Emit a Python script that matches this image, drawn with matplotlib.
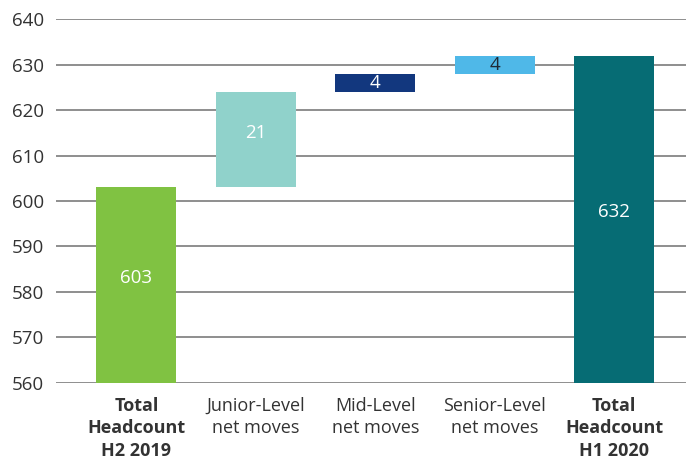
import matplotlib.pyplot as plt

plt.rcParams['font.family'] = ['Open Sans', 'DejaVu Sans']

categories = ['Total\nHeadcount\nH2 2019', 'Junior-Level\nnet moves', 'Mid-Level\nnet moves',
              'Senior-Level\nnet moves', 'Total\nHeadcount\nH1 2020']
start_total = 603
moves = [21, 4, 4]
end_total = 632
colors = ['#80c242', '#90d2cb', '#12377e', '#4fb8e8', '#066c74']
label_colors = ['white', 'white', 'white', '#1e2a36', 'white']
bold = [True, False, False, False, True]

base = 560
bottoms = [base]
heights = [start_total - base]
running = start_total
for m in moves:
    bottoms.append(running)
    heights.append(m)
    running += m
bottoms.append(base)
heights.append(end_total - base)
labels = [start_total] + moves + [end_total]

fig, ax = plt.subplots(figsize=(6.86, 4.59), dpi=100)
fig.subplots_adjust(left=0.082, right=1.0, top=0.958, bottom=0.166)

x = range(len(categories))
ax.bar(x, heights, bottom=bottoms, width=0.67, color=colors, zorder=3)

for i, (b, h, lab) in enumerate(zip(bottoms, heights, labels)):
    # tall bars get their label nudged a little above the middle
    y = b + h / 2 + (1.5 if h > 10 else 0)
    ax.text(i, y, str(lab), ha='center', va='center', fontsize=13.5,
            color=label_colors[i], zorder=4)

ax.set_ylim(560, 640)
ax.set_xlim(-0.67, 4.6)
ax.set_yticks(range(560, 641, 10))
ax.grid(axis='y', color='#8e8e8e', linewidth=1.4, zorder=0)
for s in ax.spines.values():
    s.set_visible(False)
ax.tick_params(axis='y', length=0, labelsize=13.5, labelcolor='#333333', pad=9)
ax.tick_params(axis='x', length=0, pad=10)
ax.set_xticks(list(x))
ax.set_xticklabels(categories, fontsize=13, color='#333333', linespacing=1.33)
for t, b in zip(ax.get_xticklabels(), bold):
    if b:
        t.set_fontweight('bold')

fig.savefig('out.png')
